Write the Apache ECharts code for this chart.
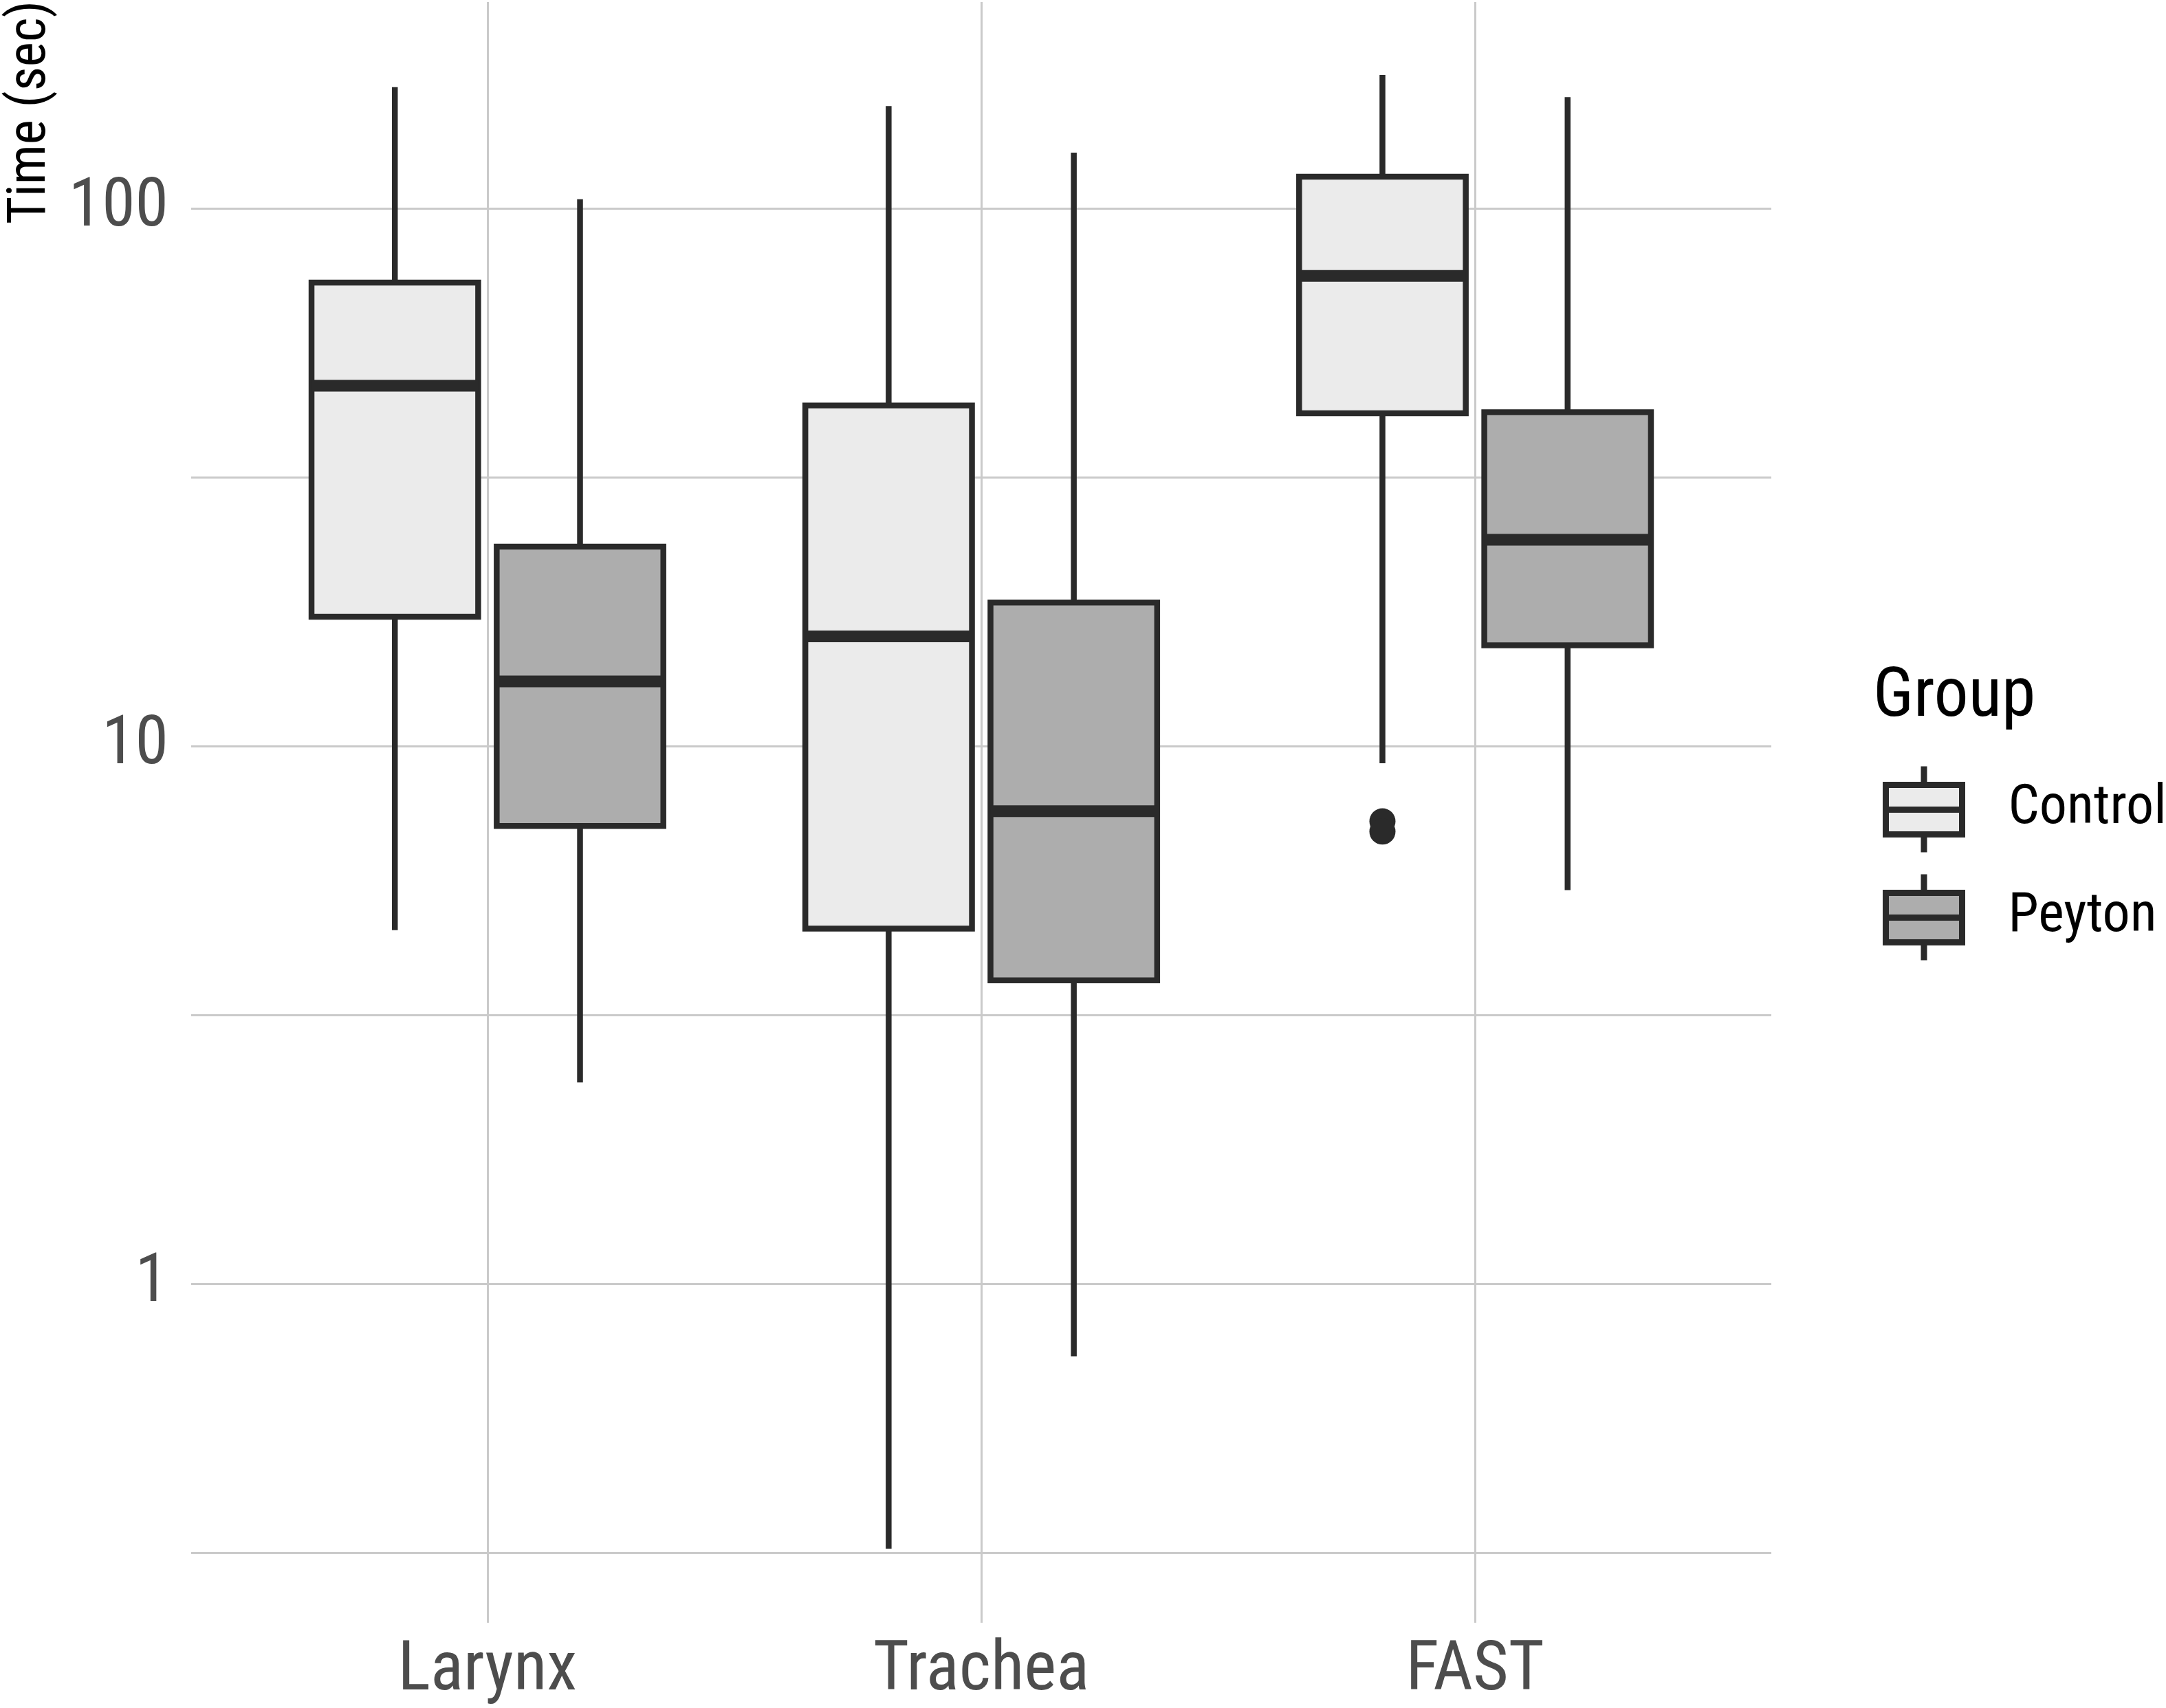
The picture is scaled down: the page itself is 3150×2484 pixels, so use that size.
<!DOCTYPE html>
<html>
<head>
<meta charset="utf-8">
<script src="https://cdn.jsdelivr.net/npm/echarts@6/dist/echarts.min.js"></script>
<style>
html,body{margin:0;padding:0;background:#ffffff;}
#chart{width:3150px;height:2484px;}
</style>
</head>
<body>
<div id="chart"></div>
<script>
// ---------- data (seconds) ----------
const categories = ['Larynx', 'Trachea', 'FAST'];
const groups = ['Control', 'Peyton'];

const controlMin    = [4.55, 0.322, 9.30];
const controlQ1     = [17.4, 4.58, 41.6];
const controlMedian = [46.8, 16.0, 74.9];
const controlQ3     = [72.8, 43.0, 114.5];
const controlMax    = [168, 155, 177];

const peytonMin    = [2.37, 0.734, 5.40];
const peytonQ1     = [7.11, 3.67, 15.4];
const peytonMedian = [13.2, 7.57, 24.2];
const peytonQ3     = [23.5, 18.5, 41.8];
const peytonMax    = [104, 127, 161];

const outlierCategory = ['FAST', 'FAST'];
const outlierGroup    = ['Control', 'Control'];
const outlierValue    = [7.25, 6.94];

const yGridValues = [0.3162, 1, 3.162, 10, 31.62, 100];
const yTickLabels = [1, 10, 100];
const xTickValues = [1, 2, 3];

// ---------- styles ----------
const FONT = "'Roboto Condensed', 'Liberation Sans Narrow', 'DejaVu Sans Condensed', Roboto, sans-serif";
const LINE = '#2A2A2A';
const GRID = '#CACACA';
const FILLS = {Control: '#EBEBEB', Peyton: '#ADADAD'};
const LW = 8.5;
const MEDW = 17;
const DODGE = 0.1875;
const HALF = 0.16875;

function boxSeries(name, mins, q1s, meds, q3s, maxs) {
  const off = name === 'Control' ? -DODGE : DODGE;
  const fill = FILLS[name];
  return {
    name: name,
    type: 'custom',
    silent: true,
    data: categories.map((c, i) => [i + 1, mins[i], q1s[i], meds[i], q3s[i], maxs[i]]),
    encode: {x: 0, y: [1, 2, 3, 4, 5]},
    renderItem: function (params, api) {
      const x = api.value(0) + off;
      const yv = k => api.coord([x, api.value(k)])[1];
      const cx = api.coord([x, api.value(3)])[0];
      const xl = api.coord([x - HALF, api.value(3)])[0];
      const xr = api.coord([x + HALF, api.value(3)])[0];
      const yMin = yv(1), yQ1 = yv(2), yMed = yv(3), yQ3 = yv(4), yMax = yv(5);
      return {
        type: 'group',
        children: [
          {type: 'line', shape: {x1: cx, y1: yQ3, x2: cx, y2: yMax}, style: {stroke: LINE, lineWidth: LW}},
          {type: 'line', shape: {x1: cx, y1: yQ1, x2: cx, y2: yMin}, style: {stroke: LINE, lineWidth: LW}},
          {type: 'rect', shape: {x: xl, y: yQ3, width: xr - xl, height: yQ1 - yQ3},
           style: {fill: fill, stroke: LINE, lineWidth: LW}},
          {type: 'line', shape: {x1: xl, y1: yMed, x2: xr, y2: yMed}, style: {stroke: LINE, lineWidth: MEDW}}
        ]
      };
    }
  };
}

const legendIcon = 'path://M0,27 L111,27 L111,99 L0,99 Z M0,63 L111,63 M55.5,0 L55.5,27 M55.5,99 L55.5,125';

const chart = echarts.init(document.getElementById('chart'), null, {renderer: 'canvas'});
chart.setOption({
  backgroundColor: '#ffffff',
  animation: false,
  textStyle: {fontFamily: FONT},
  grid: {left: 278, right: 574, top: 3, bottom: 124, containLabel: false},
  title: {
    text: 'Group', left: 2724, top: 966, padding: 0,
    textStyle: {fontSize: 100, fontWeight: 'normal', color: '#000000', fontFamily: FONT}
  },
  legend: {
    orient: 'vertical', left: 2738, top: 1110, padding: 0,
    itemWidth: 111, itemHeight: 125, itemGap: 23,
    selectedMode: false,
    icon: legendIcon,
    textStyle: {fontSize: 80, color: '#000000', fontFamily: FONT, padding: [14, 0, 0, 62]},
    data: groups.map(g => ({
      name: g, icon: legendIcon,
      itemStyle: {color: FILLS[g], borderColor: LINE, borderWidth: 9}
    }))
  },
  graphic: [{
    type: 'text', x: 46, y: 1, rotation: Math.PI / 2,
    style: {text: 'Time (sec)', fontSize: 77, fontFamily: FONT, fill: '#000000', align: 'right', verticalAlign: 'middle'}
  }],
  xAxis: {
    type: 'value', min: 0.4, max: 3.6,
    axisLine: {show: false},
    axisTick: {show: false, customValues: xTickValues},
    axisLabel: {
      customValues: xTickValues, fontSize: 100, color: '#4D4D4D', margin: 22, fontFamily: FONT,
      formatter: v => categories[Math.round(v) - 1]
    },
    splitLine: {show: true, lineStyle: {color: GRID, width: 3}}
  },
  yAxis: {
    type: 'log', logBase: 10, min: 0.2346, max: 241.9,
    axisLine: {show: false},
    axisTick: {show: false, customValues: yGridValues},
    axisLabel: {
      customValues: yTickLabels, fontSize: 98, color: '#4D4D4D', margin: 33, fontFamily: FONT,
      formatter: v => String(Math.round(v))
    },
    splitLine: {show: true, lineStyle: {color: GRID, width: 3}}
  },
  series: [
    boxSeries('Control', controlMin, controlQ1, controlMedian, controlQ3, controlMax),
    boxSeries('Peyton', peytonMin, peytonQ1, peytonMedian, peytonQ3, peytonMax),
    {
      name: 'Control', type: 'scatter', silent: true,
      symbol: 'circle', symbolSize: 38,
      itemStyle: {color: LINE, opacity: 1},
      data: outlierValue.map((v, i) => [
        categories.indexOf(outlierCategory[i]) + 1 + (outlierGroup[i] === 'Control' ? -DODGE : DODGE), v
      ])
    }
  ]
});
</script>
</body>
</html>
